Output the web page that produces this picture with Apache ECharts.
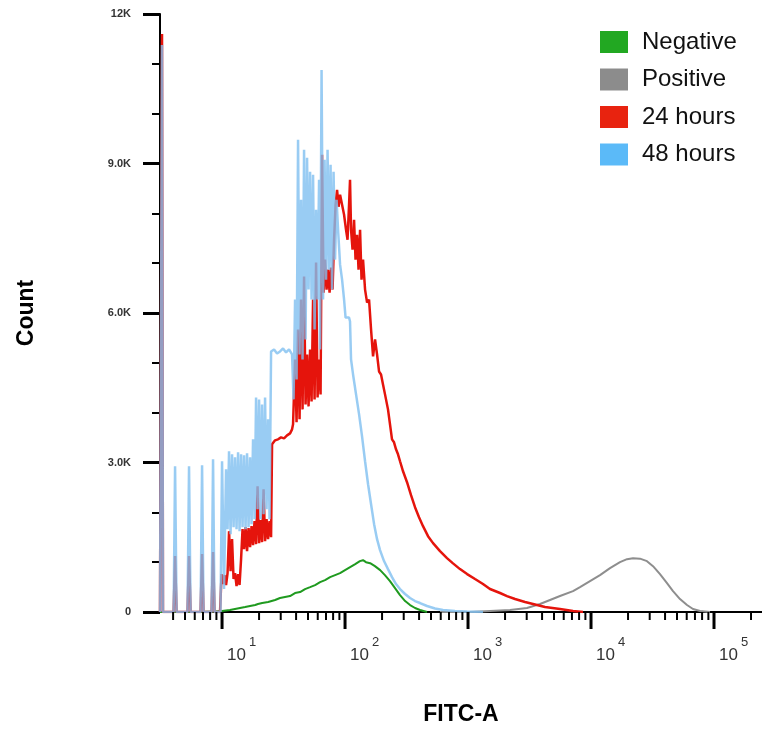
<!DOCTYPE html>
<html><head><meta charset="utf-8">
<script src="https://cdn.jsdelivr.net/npm/echarts@6/dist/echarts.min.js"></script>
<style>html,body{margin:0;padding:0;background:#fff}#c{width:762px;height:731px}</style>
</head><body><div id="c"></div>
<script>
const seriesNames = ['Negative', 'Positive', '24 hours', '48 hours'];
const yTickLabels = ['0', '3.0K', '6.0K', '9.0K', '12K'];
const xMajorTicks = [10, 100, 1000, 10000, 100000];
const xMinorTicks = [4,5,6,7,8,9,20,30,40,50,60,70,80,90,200,300,400,500,600,700,800,900,
  2000,3000,4000,5000,6000,7000,8000,9000,20000,30000,40000,50000,60000,70000,80000,90000,200000];

const negative = [[3.13,0],[6.6,0],[8.8,10],[10,20],[11.6,40],[14.0,80],[15.4,100],[16.9,120],[18.6,140],[19.6,160],[21.2,180],[23.7,200],[27.0,240],[29.6,280],[32.5,300],[35.7,320],[39.2,380],[43.1,400],[47.3,460],[52.0,500],[57.1,540],[62.7,600],[68.8,640],[75.6,700],[83.0,740],[91.1,780],[100,840],[110,900],[121,960],[132,1020],[140,1040],[148,1000],[160,980],[175,920],[193,840],[211,740],[232,620],[255,480],[280,340],[308,220],[338,140],[371,80],[407,40],[464,0]];

const positive = [[592,0],[1037,0],[1509,20],[2195,40],[3017,80],[3849,160],[4642,240],[5597,320],[7140,420],[8138,500],[9815,620],[11834,740],[14270,880],[17207,1000],[19620,1060],[21950,1080],[25020,1070],[28526,1020],[31920,920],[36380,760],[41480,580],[46420,420],[52910,260],[60320,140],[67500,60],[76930,20],[92780,0]];

const hours24 = [[3.13,0],[3.19,0],[3.25,11600],[3.31,0],
[4.04,0],[4.15,1122],[4.27,0],[5.24,0],[5.39,1122],[5.55,0],[6.69,0],[6.88,1162],[7.07,0],[8.22,0],[8.45,1202],[8.69,0],
[9.63,0],[9.91,761],[10.19,561],[10.48,741],[10.78,541],[11.09,781],[11.40,1622],[11.73,821],[12.06,1462],[12.41,661],[12.76,781],[13.12,521],[13.50,761],[13.88,541],[14.28,1062],
[14.68,1662],[15.10,1262],[15.53,1703],[15.97,1222],[16.43,1683],[16.90,1302],[17.38,1723],[17.87,1342],[18.38,1823],[18.91,1362],[19.45,2524],[20.00,1382],[20.57,1843],[21.15,1402],[21.76,2464],[22.38,1422],[23.01,1863],[23.67,1462],[24.34,1823],[25.04,1502],
[25.51,3365],[26.98,3445],[28.54,3465],[30.19,3505],[31.93,3485],[33.78,3545],[35.73,3585],[37.09,3665],
[37.79,3766],[39.24,5068],[40.35,3806],[41.50,5668],[42.69,3866],[43.90,6269],[45.15,4066],[46.44,6730],[47.76,4166],[49.12,5168],[50.52,4126],[51.96,5268],[53.44,4226],[54.96,6269],[56.53,4266],[58.14,7011],[59.80,4306],[61.50,5068],[63.25,4367],[65.05,9174],[66.90,6410],[68.81,7071],[70.77,6470],[72.79,6870],[74.86,6410],[76.99,6910],[79.18,6470],[81.44,7471],[83.76,8172],[86.15,8473],[88.61,8132],[91.13,8373],[94.61,8172],[98.22,7972],[101.9,7671],[104.8,7471],[107.8,8172],[109.8,8673],[111.9,7671],[115.1,7271],[118.4,7872],[121.7,7071],[125.2,7571],[128.8,6870],[132.5,7671],[136.2,6670],[140.1,7071],[145.5,6470],[151.1,6209],[156.8,6269],[162.8,5668],[169.0,5128],[175.4,5468],[182.1,5168],[189.0,4827],[196.2,4767],[203.6,4567],[211.4,4367],[223.5,4066],[232.1,3766],[241.0,3465],[250.2,3405],[259.7,3265],[269.6,3165],[280.0,3025],[296.2,2824],[319.2,2604],[344.0,2344],[370.7,2103],[399.5,1903],[430.5,1723],[472.9,1522],[519.5,1382],[591.9,1222],[674.5,1082],[750.9,981],[860.5,861],[983,761],[1140,661],[1323,561],[1509,461],[1820,381],[2075,320],[2411,260],[2907,200],[3376,160],[4227,100],[5597,60],[7140,20],[8608,0]];

const hours48 = [[3.13,0],[3.19,0],[3.25,11380],[3.31,0],
[4.04,0],[4.15,2924],[4.27,0],[5.24,0],[5.39,2924],[5.55,0],[6.69,0],[6.88,2944],[7.07,0],[8.22,0],[8.45,3065],[8.69,0],
[9.72,0],[10.0,3025],[10.38,461],[10.78,2864],[11.09,1662],[11.40,3225],[11.73,1562],[12.06,3165],[12.41,1703],[12.76,3105],[13.12,1662],[13.50,3205],[13.88,1622],[14.28,3165],[14.68,1703],[15.10,3145],[15.53,1662],[15.97,3185],[16.43,1703],[16.90,3105],[17.38,1763],[17.87,3465],[18.38,1863],[18.91,4306],[19.45,2063],[20.00,4266],[20.57,1863],[21.15,4166],[21.76,1963],[22.38,4306],[23.01,2063],[23.67,3866],[24.34,1863],
[25.04,5228],[26.48,5268],[28.01,5188],[29.63,5228],[31.34,5288],[33.15,5208],[35.07,5268],[37.09,5168],
[38.15,4266],[39.24,6269],[40.35,4667],[41.50,9474],[42.69,5168],[43.90,8272],[45.15,5068],[46.44,9274],[47.76,5468],[49.12,9114],[50.52,6470],[51.96,8833],[53.44,6269],[54.96,8773],[56.53,5668],[58.14,8072],[59.80,6269],[61.50,8673],[62.66,5268],[64.45,10876],[66.28,6269],[68.17,9074],[70.11,6670],[72.11,9274],[74.16,6870],[76.27,8973],[78.45,6470],[80.68,8833],[82.98,7071],[85.35,8272],[87.78,7671],[91.13,6970],[94.61,6670],[98.22,6269],[101.0,5909],[103.8,5869],[107.8,5909],[109.8,5829],[111.9,5068],[116.2,4767],[122.9,4367],[130.1,3966],[137.5,3525],[145.5,3025],[153.9,2564],[162.8,2163],[172.3,1763],[182.1,1462],[192.5,1242],[207.5,1022],[223.5,861],[241.0,701],[259.7,561],[280.0,461],[307.5,361],[337.6,280],[370.7,220],[407.1,180],[464.2,120],[539,70],[626,40],[784,20],[983,10],[1323,0]];

const FONT = "'Liberation Sans', Arial, sans-serif";
const lineColors = ['#1f9a1f', '#8e8e8e', '#e5140c', '#80bff0'];
const legendColors = ['#22a822', '#8c8c8c', '#e8230f', '#5bbaf8'];
const seriesData = [negative, positive, hours24, hours48];

const chart = echarts.init(document.getElementById('c'), null, {renderer: 'canvas'});

const tickData = xMajorTicks.map(v => [v, 1]).concat(xMinorTicks.map(v => [v, 0]));

const option = {
  animation: false,
  backgroundColor: '#fff',
  grid: {left: 160, right: 0, top: 14, bottom: 118, containLabel: false},
  legend: {
    orient: 'vertical', left: 595, top: 25,
    icon: 'rect', itemWidth: 28, itemHeight: 22, itemGap: 13.5,
    textStyle: {fontSize: 24, fontFamily: FONT, color: '#111', lineHeight: 22, padding: [0, 0, 0, 9]},
    data: seriesNames.map((n, i) => ({name: n, itemStyle: {color: legendColors[i], borderWidth: 0, opacity: 1}}))
  },
  xAxis: {
    type: 'log', logBase: 10, min: 3.13, max: 245600,
    name: 'FITC-A', nameLocation: 'middle', nameGap: 91,
    nameTextStyle: {fontSize: 23, fontWeight: 'bold', fontFamily: FONT, color: '#000'},
    axisLine: {show: true, lineStyle: {color: '#000', width: 2}},
    axisTick: {show: false},
    splitLine: {show: false},
    axisLabel: {
      showMinLabel: false, showMaxLabel: false, align: 'left', margin: 24,
      formatter: v => '{b|10}{e|' + Math.round(Math.log10(v)) + '}',
      rich: {
        b: {fontSize: 17, color: '#333', fontFamily: FONT, padding: [0, 0, 0, 5]},
        e: {fontSize: 13, color: '#333', fontFamily: FONT, padding: [0, 0, 26, 3]}
      }
    }
  },
  yAxis: {
    type: 'value', min: 0, max: 12000, interval: 3000,
    name: 'Count', nameLocation: 'middle', nameGap: 122, nameRotate: 90,
    nameTextStyle: {fontSize: 23, fontWeight: 'bold', fontFamily: FONT, color: '#000'},
    axisLine: {show: true, lineStyle: {color: '#000', width: 2}},
    axisTick: {show: true, length: 17, lineStyle: {color: '#000', width: 3}},
    minorTick: {show: true, splitNumber: 3, length: 8, lineStyle: {color: '#000', width: 2}},
    splitLine: {show: false},
    axisLabel: {
      margin: 29, fontSize: 11, fontWeight: 'bold', fontFamily: FONT, color: '#333',
      formatter: v => yTickLabels[Math.round(v / 3000)]
    }
  },
  series: [
    ...seriesNames.map((n, i) => ({
      name: n, type: 'line', data: seriesData[i], showSymbol: false, symbol: 'none',
      z: [3, 3, 4, 5][i],
      lineStyle: {color: lineColors[i], width: [2, 2, 2.5, 2.5][i], opacity: i === 3 ? 0.8 : 1},
      itemStyle: {color: lineColors[i]},
      clip: true
    })),
    {
      type: 'custom', name: 'ticks', data: tickData, clip: false, silent: true, z: 10,
      encode: {x: 0},
      renderItem: (params, api) => {
        const p = api.coord([api.value(0), 0]);
        const major = api.value(1) === 1;
        return {type: 'line', shape: {x1: p[0], y1: p[1], x2: p[0], y2: p[1] + (major ? 17 : 8)},
          style: {stroke: '#000', lineWidth: major ? 3 : 2}};
      }
    }
  ]
};
chart.setOption(option);
</script></body></html>
